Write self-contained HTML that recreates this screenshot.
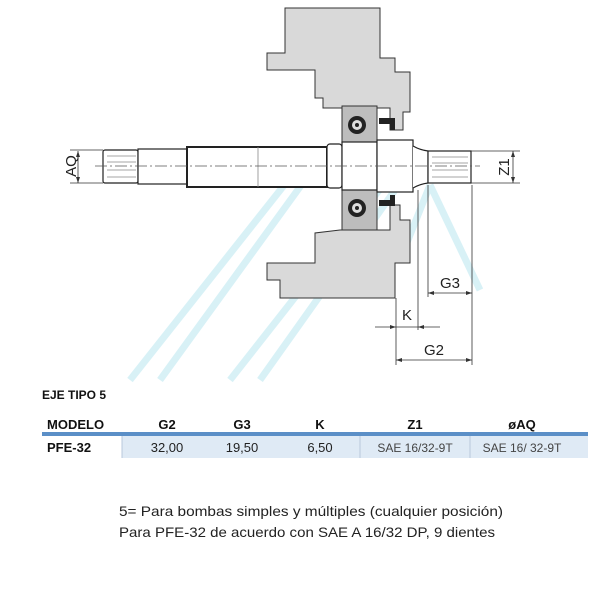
<!DOCTYPE html>
<html><head><meta charset="utf-8"><style>
html,body{margin:0;padding:0;background:#fff}
svg{display:block}
text{font-family:"Liberation Sans",sans-serif}
</style></head><body>
<svg width="600" height="600" viewBox="0 0 600 600" xmlns="http://www.w3.org/2000/svg">
<!-- watermark stripes -->
<g stroke="#cfeef5" stroke-width="7" opacity="0.8" fill="none">
<line x1="312" y1="150" x2="130" y2="380"/>
<line x1="318" y1="162" x2="160" y2="380"/>
<line x1="395" y1="170" x2="230" y2="380"/>
<line x1="395" y1="190" x2="260" y2="380"/>
<line x1="430" y1="185" x2="400" y2="260"/>
<line x1="430" y1="185" x2="480" y2="290"/>
</g>
<!-- upper housing -->
<polygon points="285,8 380,8 380,58 395,58 395,72 410,72 410,112 403,112 403,130 390,130 390,108 345,108 345,108 323,108 323,98 315,98 315,70 267,70 267,53 285,53" fill="#d9d9d9" stroke="#333" stroke-width="1"/>
<!-- lower housing -->
<polygon points="340,230 315,233 315,263 267,263 267,280 280,280 280,298 395,298 395,263 410,263 410,220 400,220 400,205 390,205 390,230" fill="#d9d9d9" stroke="#333" stroke-width="1"/>
<!-- bearings -->
<rect x="342" y="106" width="35" height="36" fill="#bdbdbd" stroke="#333"/>
<rect x="342" y="190" width="35" height="40" fill="#bdbdbd" stroke="#333"/>
<circle cx="357" cy="125" r="9" fill="#222"/><circle cx="357" cy="125" r="5" fill="#ddd"/><circle cx="357" cy="125" r="2" fill="#222"/>
<circle cx="357" cy="208" r="9" fill="#222"/><circle cx="357" cy="208" r="5" fill="#ddd"/><circle cx="357" cy="208" r="2" fill="#222"/>
<!-- seals -->
<path d="M379,124 L379,118 L395,118 L395,130 L390,130 L390,124 Z" fill="#222"/>
<path d="M379,200 L379,206 L395,206 L395,195 L390,195 L390,200 Z" fill="#222"/>
<!-- shaft -->
<g stroke="#222" stroke-width="1.2" fill="#fff">
<rect x="103" y="150" width="35" height="33" rx="2"/>
<rect x="138" y="149" width="49" height="35"/>
<rect x="187" y="147" width="140" height="40" stroke-width="2"/>
<rect x="327" y="144" width="15" height="44" rx="3"/>
<rect x="342" y="142" width="35" height="48"/>
<rect x="377" y="140" width="36" height="52"/>
<path d="M413,146 Q420,150 428,151 L428,183 Q420,184 413,188" fill="#fff"/>
<rect x="428" y="151" width="43" height="32"/>
</g>
<g stroke="#888" stroke-width="0.8">
<line x1="107" y1="156" x2="136" y2="156"/><line x1="107" y1="162" x2="136" y2="162"/>
<line x1="107" y1="170" x2="136" y2="170"/><line x1="107" y1="177" x2="136" y2="177"/>
<line x1="432" y1="157" x2="468" y2="157"/><line x1="432" y1="163" x2="468" y2="163"/>
<line x1="432" y1="170" x2="468" y2="170"/><line x1="432" y1="177" x2="468" y2="177"/>
<line x1="258" y1="147" x2="258" y2="187"/>
</g>
<line x1="95" y1="166" x2="480" y2="166" stroke="#555" stroke-width="0.7" stroke-dasharray="12,3,2,3"/>
<!-- dimensions -->
<g stroke="#333" stroke-width="0.8" fill="none">
<line x1="70" y1="150" x2="103" y2="150"/><line x1="70" y1="183" x2="103" y2="183"/>
<line x1="78" y1="151" x2="78" y2="183"/>
<line x1="471" y1="151" x2="520" y2="151"/><line x1="471" y1="183" x2="520" y2="183"/>
<line x1="513" y1="151" x2="513" y2="183"/>
<line x1="428" y1="185" x2="428" y2="297"/>
<line x1="472" y1="185" x2="472" y2="365"/>
<line x1="418" y1="190" x2="418" y2="330"/>
<line x1="396" y1="298" x2="396" y2="365"/>
<line x1="428" y1="293" x2="472" y2="293"/>
<line x1="375" y1="327" x2="440" y2="327"/>
<line x1="396" y1="360" x2="472" y2="360"/>
</g>
<g fill="#333">
<path d="M78,151 l-2,6 h4z"/><path d="M78,183 l-2,-6 h4z"/>
<path d="M513,151 l-2,6 h4z"/><path d="M513,183 l-2,-6 h4z"/>
<path d="M428,293 l6,-2 v4z"/><path d="M472,293 l-6,-2 v4z"/>
<path d="M396,327 l-6,-2 v4z"/><path d="M418,327 l6,-2 v4z"/>
<path d="M396,360 l6,-2 v4z"/><path d="M472,360 l-6,-2 v4z"/>
</g>
<g font-size="15" fill="#222">
<text x="72" y="166" transform="rotate(-90 72 166)" text-anchor="middle" dominant-baseline="middle">AQ</text>
<text x="505" y="167" transform="rotate(-90 505 167)" text-anchor="middle" dominant-baseline="middle">Z1</text>
<text x="450" y="288" text-anchor="middle">G3</text>
<text x="407" y="320" text-anchor="middle">K</text>
<text x="434" y="355" text-anchor="middle">G2</text>
</g>
<!-- table -->
<text x="42" y="399" font-size="12" font-weight="bold" fill="#111">EJE TIPO 5</text>
<g font-size="13" font-weight="bold" fill="#111">
<text x="47" y="429">MODELO</text>
<text x="167" y="429" text-anchor="middle">G2</text>
<text x="242" y="429" text-anchor="middle">G3</text>
<text x="320" y="429" text-anchor="middle">K</text>
<text x="415" y="429" text-anchor="middle">Z1</text>
<text x="522" y="429" text-anchor="middle">øAQ</text>
<text x="47" y="452">PFE-32</text>
</g>
<rect x="122" y="436" width="466" height="22" fill="#dfeaf5"/>
<rect x="42" y="432" width="546" height="4" fill="#5b8fc7"/>
<g stroke="#b8c8dc" stroke-width="1"><line x1="122" y1="436" x2="122" y2="458"/><line x1="360" y1="436" x2="360" y2="458"/><line x1="470" y1="436" x2="470" y2="458"/></g>
<g font-size="13" fill="#222" text-anchor="middle">
<text x="167" y="452">32,00</text>
<text x="242" y="452">19,50</text>
<text x="320" y="452">6,50</text>
<text x="415" y="452" font-size="12" fill="#444">SAE 16/32-9T</text>
<text x="522" y="452" font-size="12" fill="#444">SAE 16/ 32-9T</text>
</g>
<g font-size="14" fill="#222">
<text x="119" y="516" textLength="384" lengthAdjust="spacingAndGlyphs">5= Para bombas simples y múltiples (cualquier posición)</text>
<text x="119" y="537" textLength="376" lengthAdjust="spacingAndGlyphs">Para PFE-32 de acuerdo con SAE A 16/32 DP, 9 dientes</text>
</g>
</svg>
</body></html>
